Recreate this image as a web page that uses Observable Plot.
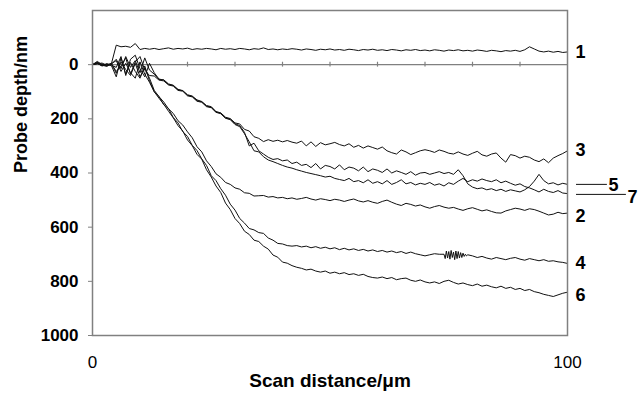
<!DOCTYPE html>
<html>
<head>
<meta charset="utf-8">
<script src="https://cdn.jsdelivr.net/npm/d3@7"></script>
<script src="https://cdn.jsdelivr.net/npm/@observablehq/plot@0.6"></script>
<style>
  html, body { margin: 0; padding: 0; background: #fff; }
  #chart { width: 640px; height: 395px; }
</style>
</head>
<body>
<div id="chart"></div>
<script>
// Scan positions (µm), one sample per micrometre
const scanX = d3.range(0, 101);

// Probe depth profiles (nm) for scans 1–7; negative = above the surface
const depth1 = [0,-8,-2,3,-5,-72,-66,-68,-64,-78,-56,-60,-57,-60,-56,-59,-62,-57,-60,-58,
  -61,-56,-59,-57,-60,-58,-55,-60,-57,-59,-56,-60,-58,-55,-59,-57,-62,-56,-58,-55,
  -58,-56,-59,-57,-54,-58,-56,-53,-57,-55,-58,-54,-56,-53,-57,-55,-52,-56,-54,-57,
  -53,-55,-52,-56,-54,-51,-55,-53,-56,-52,-54,-51,-55,-53,-50,-54,-52,-55,-51,-53,
  -50,-54,-52,-49,-53,-51,-48,-52,-50,-53,-49,-55,-66,-58,-50,-47,-50,-46,-49,-45,-47];

const depth2 = [0,-5,5,0,-3,32,-10,18,40,-5,45,12,50,95,118,138,163,180,207,223,
  248,270,303,322,355,376,403,416,435,442,455,460,473,475,485,484,483,489,487,492,
  490,495,492,497,494,490,496,500,495,498,502,497,500,505,500,496,503,507,502,508,
  512,505,500,508,515,520,512,516,522,518,525,530,524,520,526,530,527,533,538,532,
  528,534,540,536,542,547,548,540,535,530,533,538,532,535,541,548,555,552,545,550,548];

const depth3 = [0,-12,0,5,-2,-20,15,-30,10,-15,30,-25,20,35,55,56,71,76,91,96,
  111,116,130,136,151,155,173,178,194,199,215,219,239,245,266,272,284,277,283,279,
  285,280,286,290,282,300,285,302,288,296,292,287,295,300,292,305,298,308,300,306,
  312,304,318,325,330,315,322,332,325,318,314,318,324,315,320,327,330,322,330,335,
  327,320,333,338,330,326,345,360,332,336,345,338,342,352,358,348,362,345,336,328,318];

const depth4 = [0,-8,3,-2,4,45,-25,35,-8,25,50,5,60,100,118,148,162,195,215,247,
  265,298,317,348,372,410,428,458,482,515,537,568,585,605,610,620,623,640,648,660,
  662,668,670,668,673,670,676,672,678,674,680,676,683,678,684,680,686,682,688,684,
  690,686,692,688,694,690,697,692,698,702,706,702,698,700,702,702,702,702,702,702,
  706,712,708,714,718,712,716,720,715,712,718,722,716,720,724,720,726,724,728,730,734];

// Dense stretch of scan 4 where the probe chattered (74–79 µm)
const chatterX = [74,74.25,74.5,74.75,75,75.25,75.5,75.75,76,76.25,76.5,76.75,77,77.25,77.5,77.75,78,78.25,78.5,78.75,79];
const chatterDepth = [700,716,688,714,690,718,686,712,692,720,688,716,690,714,694,712,696,708,700,706,702];

const depth5 = [0,-6,4,-4,2,10,-30,40,-20,-35,15,45,-5,30,53,57,73,77,93,96,
  113,117,133,137,153,157,175,179,197,201,218,225,250,300,290,318,330,342,350,347,
  355,352,365,360,372,368,380,365,385,372,376,385,370,388,378,382,392,378,395,385,
  390,398,385,400,392,398,405,395,408,400,398,405,400,395,402,398,405,388,410,440,
  452,458,455,462,458,465,460,468,462,466,470,462,450,430,405,428,440,436,444,438,442];

const depth6 = [0,-3,-6,2,-4,-15,25,-5,30,50,-10,35,65,100,124,146,172,196,225,245,
  278,299,331,349,388,415,448,472,511,535,568,587,615,627,648,653,670,681,703,711,
  729,733,742,748,752,758,755,762,766,762,770,766,772,768,775,772,778,774,782,786,
  788,784,790,786,794,790,788,796,800,795,802,806,802,808,800,796,804,810,806,812,
  816,810,818,814,820,824,818,826,822,830,826,834,830,838,842,848,852,856,850,844,840];

const depth7 = [0,-4,2,6,-3,25,5,-25,35,-10,-30,20,40,42,57,60,75,79,95,98,
  115,119,135,139,155,159,176,181,198,203,221,229,255,285,318,322,340,352,358,365,
  372,378,382,388,393,398,402,406,410,415,412,420,424,428,420,432,428,436,425,438,
  432,440,428,442,435,425,440,435,444,438,442,435,445,440,448,436,442,430,420,432,
  425,430,422,428,432,425,436,430,438,445,440,450,455,462,470,460,468,472,465,474,476];

const seriesNames = ["1","2","3","4","5","6","7"];
const seriesDepths = [depth1, depth2, depth3, depth4, depth5, depth6, depth7];

// End-of-line labels: depth at which each number sits, and its horizontal offset (px)
const labelDepth = [-46, 558, 317, 735, 444, 851, 488];
const labelShift = [8, 8, 8, 8, 41, 8, 60];

// Leader lines drawn for the crowded labels 5 and 7
const leaderDepth = [442, 479];
const leaderStart = [101.9, 101.9];
const leaderEnd = [108.4, 112.4];

// Axis ticks
const yTicks = [0, 200, 400, 600, 800, 1000];
const xTicks = [0, 100];
const zeroLineTicks = [10, 20, 30, 40, 50, 60, 70, 80, 90];

const profiles = seriesDepths.flatMap((arr, i) => {
  let pts = arr.map((v, j) => ({x: scanX[j], depth: v, scan: seriesNames[i]}));
  if (seriesNames[i] === "4") {
    pts = pts.filter((p) => p.x < chatterX[0] || p.x > chatterX[chatterX.length - 1])
      .concat(chatterX.map((x, k) => ({x, depth: chatterDepth[k], scan: "4"})))
      .sort((a, b) => a.x - b.x);
  }
  return pts;
});
const labels = seriesNames.map((n, i) => ({name: n, depth: labelDepth[i], shift: labelShift[i]}));
const leaders = leaderDepth.map((d, i) => ({depth: d, x1: leaderStart[i], x2: leaderEnd[i]}));

const font = "'Liberation Sans', Arial, Helvetica, sans-serif";
const grey = "#808080";

// one text mark per distinct horizontal offset
const shifts = Array.from(new Set(labelShift));
const labelMarks = shifts.map((s) =>
  Plot.text(labels.filter((d) => d.shift === s), {
    x: 100, y: "depth", text: "name", dx: s,
    textAnchor: "start", fontSize: 18, fontWeight: "bold", fill: "#000"
  }));

const chart = Plot.plot({
  width: 640,
  height: 395,
  marginLeft: 92,
  marginRight: 73,
  marginTop: 10,
  marginBottom: 60,
  style: {fontFamily: font, background: "#fff", color: "#000", overflow: "visible"},
  x: {domain: [0, 100]},
  y: {domain: [-200, 1000], reverse: true},
  marks: [
    Plot.ruleY([0], {stroke: grey, strokeWidth: 1.3}),
    Plot.ruleX(zeroLineTicks, {y1: -9, y2: 9, stroke: grey, strokeWidth: 1.2}),
    Plot.line(profiles, {x: "x", y: "depth", z: "scan", stroke: "#111", strokeWidth: 1}),
    Plot.frame({stroke: grey, strokeWidth: 1.5}),
    Plot.axisY({
      ticks: yTicks, tickSize: 4, tickPadding: 10, stroke: grey,
      tickFormat: d3.format("d"), fontSize: 17, fontWeight: "bold", label: null
    }),
    Plot.axisX({
      ticks: xTicks, tickSize: 0, tickPadding: 20, fontSize: 17,
      tickFormat: d3.format("d"), label: null
    }),
    Plot.text(["Probe depth/nm"], {
      frameAnchor: "left", dx: -71, rotate: -90,
      fontSize: 18, fontWeight: "bold", fill: "#000"
    }),
    Plot.text(["Scan distance/\u03bcm"], {
      frameAnchor: "bottom", dy: 51,
      fontSize: 19, fontWeight: "bold", fill: "#000"
    }),
    Plot.ruleY(leaders, {y: "depth", x1: "x1", x2: "x2", stroke: "#111", strokeWidth: 1}),
    ...labelMarks
  ]
});
document.getElementById("chart").appendChild(chart);
</script>
</body>
</html>
